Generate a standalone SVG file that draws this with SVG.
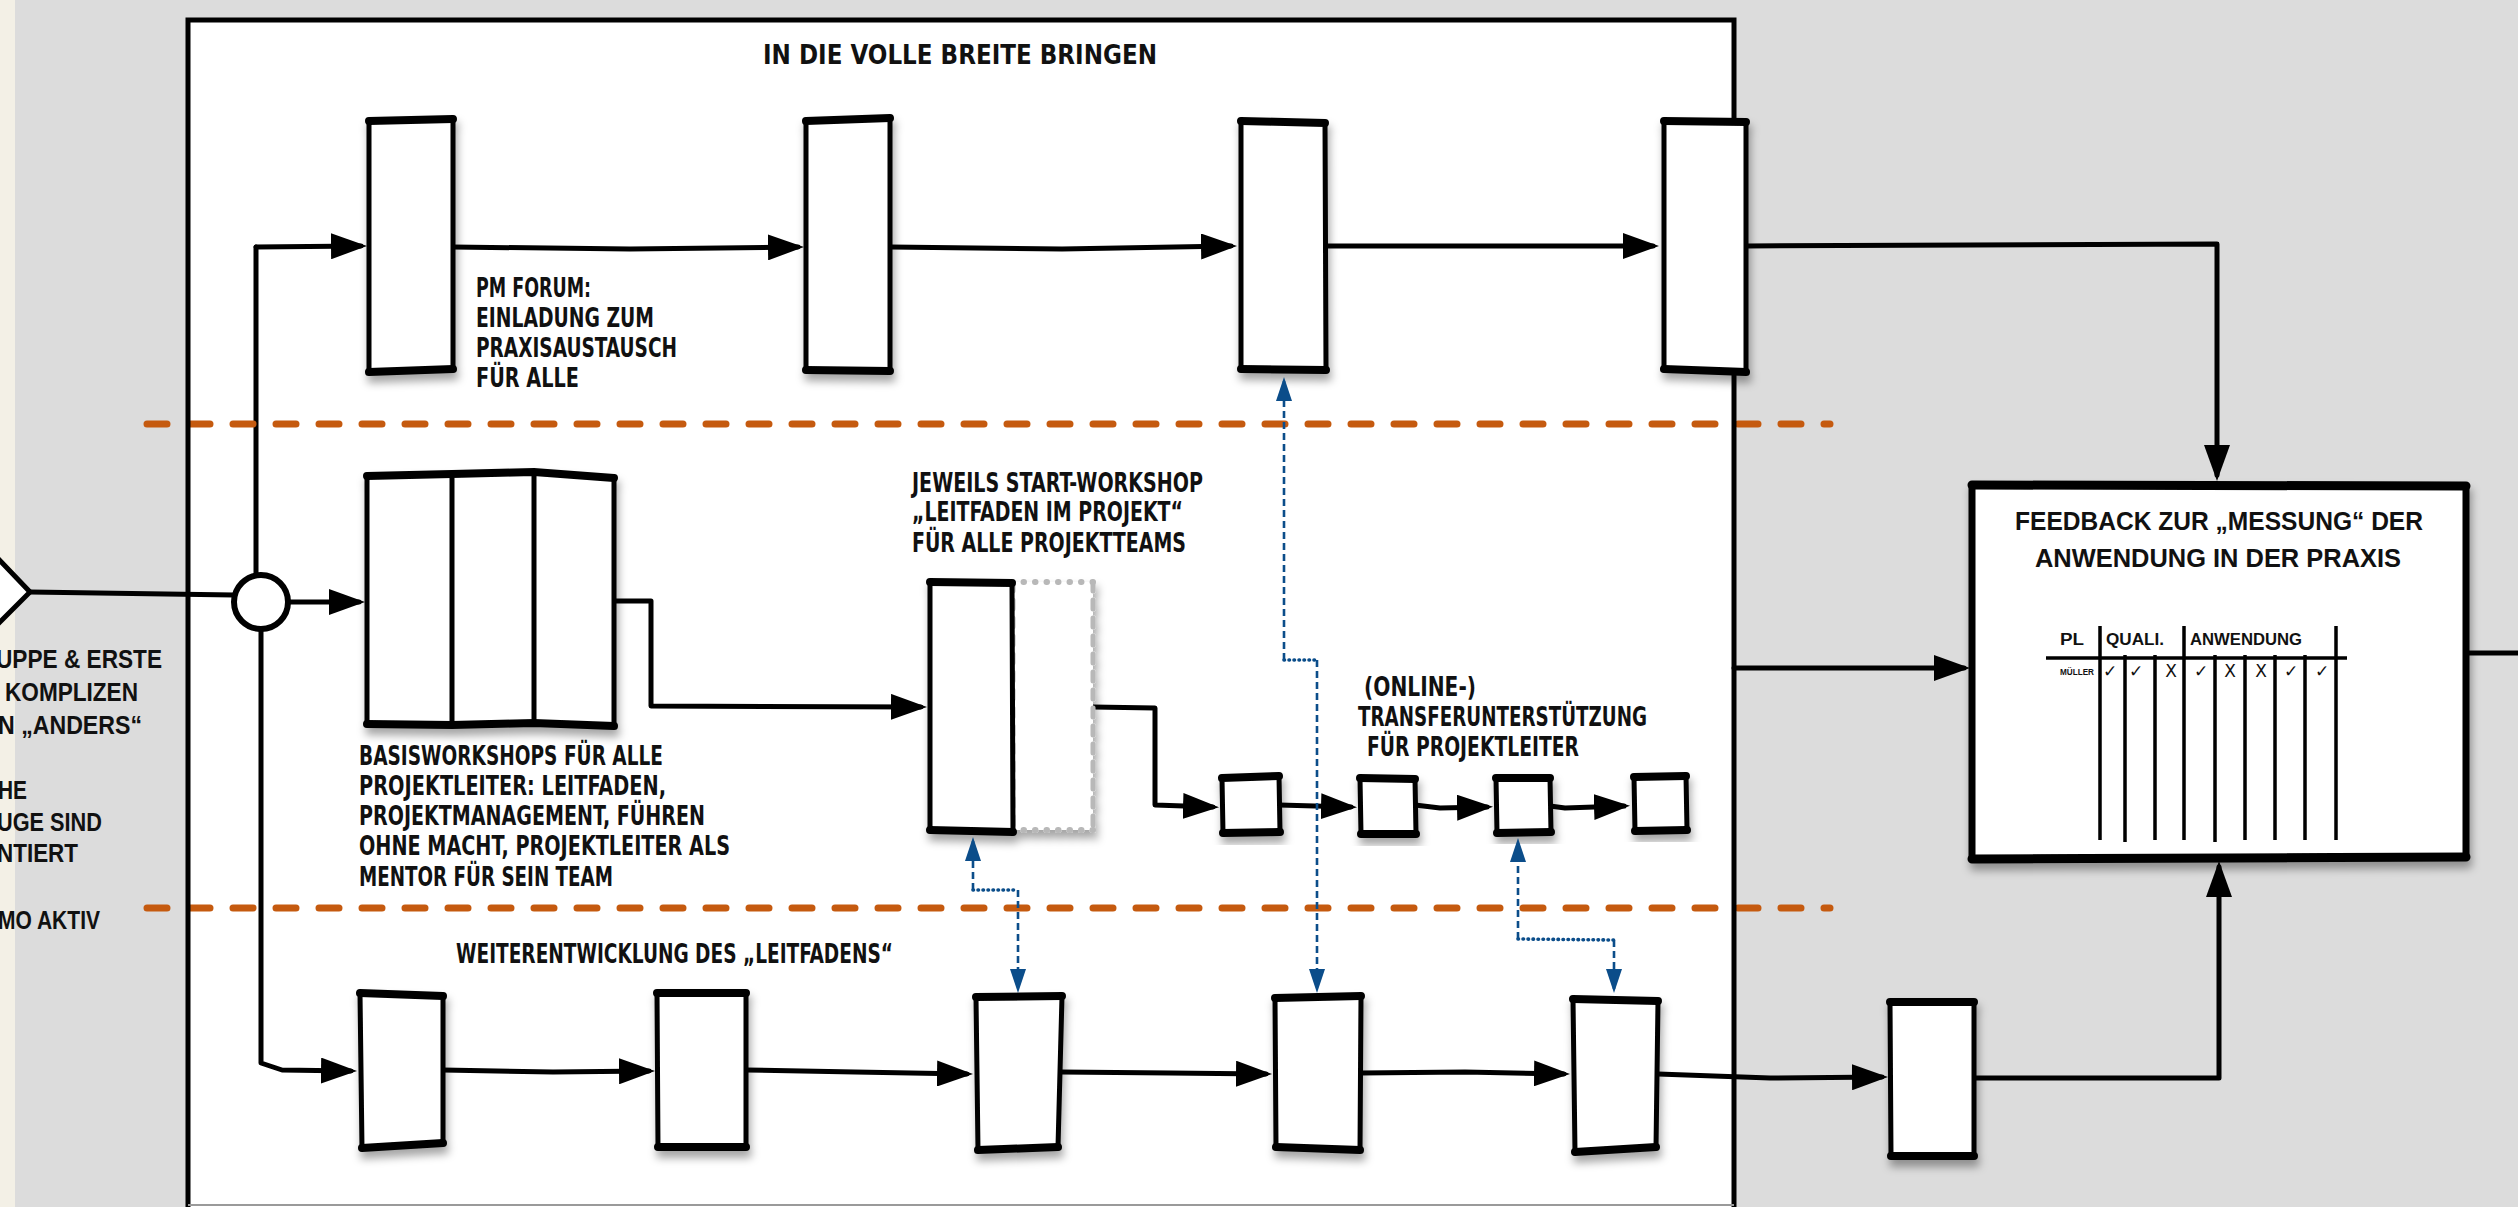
<svg xmlns="http://www.w3.org/2000/svg" width="2518" height="1207" viewBox="0 0 2518 1207">
<style>
.bx{fill:#fff;stroke:#000;stroke-width:5;stroke-linejoin:round}
.cap{fill:none;stroke:#000;stroke-width:8;stroke-linecap:round}
.dv{fill:none;stroke:#000;stroke-width:5}
.ln{fill:none;stroke:#000;stroke-width:5;stroke-linejoin:round;stroke-linecap:round}
.bl{fill:none;stroke:#0b4d8a;stroke-width:2.6;stroke-dasharray:7 4}
.bd{fill:none;stroke:#0b4d8a;stroke-width:3.6;stroke-dasharray:0.5 4.5;stroke-linecap:round}
.or{fill:none;stroke:#c55a0f;stroke-width:7;stroke-dasharray:20 23;stroke-linecap:round}
.hand{font-family:'Liberation Sans Narrow','DejaVu Sans Condensed','Liberation Sans',sans-serif;font-weight:bold;font-size:27px;fill:#111}
.brush{font-family:'Liberation Sans','DejaVu Sans',sans-serif;font-weight:bold;fill:#111}
.mk{font-family:'DejaVu Sans',sans-serif;font-size:17px;fill:#111;text-anchor:middle}
.tl{fill:none;stroke:#000;stroke-width:3.5}
</style>
<defs>
<filter id="sh" x="-30%" y="-10%" width="160%" height="130%">
<feDropShadow dx="2" dy="7" stdDeviation="4" flood-color="#000" flood-opacity="0.35"/>
</filter>
<marker id="ah" markerUnits="userSpaceOnUse" viewBox="0 0 36 26" markerWidth="36" markerHeight="26" refX="30" refY="13" orient="auto">
<path d="M0,0 L36,13 L0,26 z" fill="#000"/>
</marker>
<marker id="bh" markerUnits="userSpaceOnUse" viewBox="0 0 24 16" markerWidth="24" markerHeight="16" refX="20" refY="8" orient="auto-start-reverse">
<path d="M0,0 L24,8 L0,16 z" fill="#0b4d8a"/>
</marker>
</defs>

<!-- background -->
<rect x="0" y="0" width="2518" height="1207" fill="#dcdcdc"/>
<rect x="0" y="0" width="15" height="1207" fill="#f3f0e6"/>

<!-- main frame -->
<g id="frame">
<rect x="188" y="20" width="1546" height="1195" fill="#fff"/>
</g>

<!-- left truncated texts -->
<g id="left-notes">
<text class="brush" font-size="26" x="-4" y="668" textLength="166" lengthAdjust="spacingAndGlyphs">UPPE &amp; ERSTE</text>
<text class="brush" font-size="26" x="5" y="701" textLength="133" lengthAdjust="spacingAndGlyphs">KOMPLIZEN</text>
<text class="brush" font-size="26" x="-2" y="734" textLength="144" lengthAdjust="spacingAndGlyphs">N „ANDERS“</text>
<text class="brush" font-size="26" x="-2" y="799" textLength="29" lengthAdjust="spacingAndGlyphs">HE</text>
<text class="brush" font-size="26" x="-3" y="831" textLength="105" lengthAdjust="spacingAndGlyphs">UGE SIND</text>
<text class="brush" font-size="26" x="-3" y="862" textLength="81" lengthAdjust="spacingAndGlyphs">NTIERT</text>
<text class="brush" font-size="26" x="-2" y="929" textLength="102" lengthAdjust="spacingAndGlyphs">MO AKTIV</text>
</g>

<!-- entry chevron -->
<g id="entry">
<path d="M-12,548 L30,592 L-12,634 Z" fill="#fff" stroke="#000" stroke-width="5" stroke-linejoin="miter"/>
</g>

<!-- connectors -->
<g id="connectors">
<path class="ln" d="M30,592 L234,595"/>
<path class="ln" d="M256,575 L256,247"/>
<path class="ln" d="M256,247 L361,246" marker-end="url(#ah)"/>
<path class="ln" d="M261,629 L261,1063 L282,1070 L351,1071" marker-end="url(#ah)"/>
<path class="ln" d="M288,602 L359,602" marker-end="url(#ah)"/>
<!-- row 1 -->
<path class="ln" d="M453,247 L630,249 L798,247" marker-end="url(#ah)"/>
<path class="ln" d="M891,247 L1062,249 L1231,246" marker-end="url(#ah)"/>
<path class="ln" d="M1326,246 L1653,246" marker-end="url(#ah)"/>
<path class="ln" d="M1747,246 L2217,244 L2217,475" marker-end="url(#ah)"/>
<!-- row 2 -->
<path class="ln" d="M614,601 L651,601 L651,706 L921,707" marker-end="url(#ah)"/>
<path class="ln" d="M1093,707 L1155,708 L1155,805 L1213,807" marker-end="url(#ah)"/>
<path class="ln" d="M1279,805 L1351,807" marker-end="url(#ah)"/>
<path class="ln" d="M1415,805 L1440,808 L1487,807" marker-end="url(#ah)"/>
<path class="ln" d="M1550,806 L1565,808 L1624,806" marker-end="url(#ah)"/>
<!-- row 3 -->
<path class="ln" d="M443,1070 L553,1072 L649,1071" marker-end="url(#ah)"/>
<path class="ln" d="M746,1070 L855,1072 L967,1074" marker-end="url(#ah)"/>
<path class="ln" d="M1061,1072 L1170,1073 L1266,1074" marker-end="url(#ah)"/>
<path class="ln" d="M1361,1073 L1465,1072 L1564,1074" marker-end="url(#ah)"/>
<path class="ln" d="M1658,1074 L1770,1078 L1882,1077" marker-end="url(#ah)"/>
<path class="ln" d="M1974,1078 L2219,1078 L2219,867" marker-end="url(#ah)"/>
<!-- to / from feedback -->
<path class="ln" d="M1734,668 L1964,668" marker-end="url(#ah)"/>
<path class="ln" d="M2466,653 L2520,653"/>
</g>

<!-- swimlane separators -->
<g id="lanes">
<line class="or" x1="147" y1="424" x2="1830" y2="424"/>
<line class="or" x1="147" y1="908" x2="1830" y2="908"/>
</g>

<!-- frame border -->
<rect x="188" y="20" width="1546" height="1195" fill="none" stroke="#000" stroke-width="5"/>
<line x1="188" y1="1205" x2="1734" y2="1205" stroke="#9a9a9a" stroke-width="2"/>

<text id="title" class="hand" font-size="31" x="763" y="64" textLength="394" lengthAdjust="spacingAndGlyphs">IN DIE VOLLE BREITE BRINGEN</text>

<!-- lane 1 nodes -->
<g id="pm-a"><g filter="url(#sh)"><polygon class="bx" points="369,121 453,119 453,369 369,372"/><path class="cap" d="M369,121 L453,119 M369,372 L453,369"/></g></g>
<g id="pm-b"><g filter="url(#sh)"><polygon class="bx" points="806,121 890,118 890,371 806,370"/><path class="cap" d="M806,121 L890,118 M806,370 L890,371"/></g></g>
<g id="pm-c"><g filter="url(#sh)"><polygon class="bx" points="1241,121 1325,123 1326,370 1241,369"/><path class="cap" d="M1241,121 L1325,123 M1241,369 L1326,370"/></g></g>
<g id="pm-d"><g filter="url(#sh)"><polygon class="bx" points="1664,121 1746,122 1746,372 1664,369"/><path class="cap" d="M1664,121 L1746,122 M1664,369 L1746,372"/></g></g>
<g id="pm-text">
<text class="hand" x="476" y="297" textLength="115" lengthAdjust="spacingAndGlyphs">PM FORUM:</text>
<text class="hand" x="476" y="327" textLength="178" lengthAdjust="spacingAndGlyphs">EINLADUNG ZUM</text>
<text class="hand" x="476" y="357" textLength="201" lengthAdjust="spacingAndGlyphs">PRAXISAUSTAUSCH</text>
<text class="hand" x="476" y="387" textLength="103" lengthAdjust="spacingAndGlyphs">FÜR ALLE</text>
</g>

<!-- lane 2 nodes -->
<g id="junction"><circle cx="261" cy="602" r="27" fill="#fff" stroke="#000" stroke-width="6"/></g>
<g id="basis">
<g filter="url(#sh)">
<polygon class="bx" points="367,476 452,474 534,472 614,478 614,726 534,723 452,725 367,724"/>
<path class="dv" d="M452,474 L452,725 M534,472 L534,723"/>
<path class="cap" d="M367,476 L452,474 L534,472 L614,478 M367,724 L452,725 L534,723 L614,726"/>
</g>
<text class="hand" x="359" y="765" textLength="304" lengthAdjust="spacingAndGlyphs">BASISWORKSHOPS FÜR ALLE</text>
<text class="hand" x="359" y="795" textLength="307" lengthAdjust="spacingAndGlyphs">PROJEKTLEITER: LEITFADEN,</text>
<text class="hand" x="359" y="825" textLength="346" lengthAdjust="spacingAndGlyphs">PROJEKTMANAGEMENT, FÜHREN</text>
<text class="hand" x="359" y="855" textLength="371" lengthAdjust="spacingAndGlyphs">OHNE MACHT, PROJEKTLEITER ALS</text>
<text class="hand" x="359" y="886" textLength="254" lengthAdjust="spacingAndGlyphs">MENTOR FÜR SEIN TEAM</text>
</g>
<g id="start-ws">
<g filter="url(#sh)">
<rect x="1012" y="582" width="81" height="248" fill="#fff"/>
<path d="M1012,582 L1093,582 M1012,830 L1093,830" fill="none" stroke="#b8b8b8" stroke-width="6" stroke-dasharray="0.5 11" stroke-linecap="round"/>
<path d="M1093,582 L1093,830 M1013,582 L1013,830" fill="none" stroke="#b8b8b8" stroke-width="5" stroke-dasharray="9 9" stroke-linecap="round"/>
<polygon class="bx" points="930,582 1012,583 1013,832 930,830"/>
<path class="cap" d="M930,582 L1012,583 M930,830 L1013,832"/>
</g>
<text class="hand" x="912" y="492" textLength="291" lengthAdjust="spacingAndGlyphs">JEWEILS START-WORKSHOP</text>
<text class="hand" x="912" y="521" textLength="271" lengthAdjust="spacingAndGlyphs">„LEITFADEN IM PROJEKT“</text>
<text class="hand" x="912" y="552" textLength="274" lengthAdjust="spacingAndGlyphs">FÜR ALLE PROJEKTTEAMS</text>
</g>
<g id="t1"><g filter="url(#sh)"><polygon class="bx" points="1222,778 1279,776 1280,832 1223,833"/><path class="cap" d="M1222,778 L1279,776 M1223,833 L1280,832"/></g></g>
<g id="t2"><g filter="url(#sh)"><polygon class="bx" points="1360,778 1415,779 1416,834 1361,834"/><path class="cap" d="M1360,778 L1415,779 M1361,834 L1416,834"/></g></g>
<g id="t3"><g filter="url(#sh)"><polygon class="bx" points="1496,778 1550,778 1551,832 1497,833"/><path class="cap" d="M1496,778 L1550,778 M1497,833 L1551,832"/></g></g>
<g id="t4"><g filter="url(#sh)"><polygon class="bx" points="1634,777 1686,776 1687,830 1635,831"/><path class="cap" d="M1634,777 L1686,776 M1635,831 L1687,830"/></g></g>
<g id="transfer-text">
<text class="hand" x="1364" y="696" textLength="112" lengthAdjust="spacingAndGlyphs">(ONLINE-)</text>
<text class="hand" x="1358" y="726" textLength="289" lengthAdjust="spacingAndGlyphs">TRANSFERUNTERSTÜTZUNG</text>
<text class="hand" x="1367" y="756" textLength="212" lengthAdjust="spacingAndGlyphs">FÜR PROJEKTLEITER</text>
</g>

<!-- lane 3 nodes -->
<text id="lane3-title" class="hand" font-size="24" x="456" y="963" textLength="437" lengthAdjust="spacingAndGlyphs">WEITERENTWICKLUNG DES „LEITFADENS“</text>
<g id="f1"><g filter="url(#sh)"><polygon class="bx" points="360,993 443,996 443,1143 362,1148"/><path class="cap" d="M360,993 L443,996 M362,1148 L443,1143"/></g></g>
<g id="f2"><g filter="url(#sh)"><polygon class="bx" points="657,993 746,993 746,1147 658,1147"/><path class="cap" d="M657,993 L746,993 M658,1147 L746,1147"/></g></g>
<g id="f3"><g filter="url(#sh)"><polygon class="bx" points="976,997 1062,996 1058,1147 978,1150"/><path class="cap" d="M976,997 L1062,996 M978,1150 L1058,1147"/></g></g>
<g id="f4"><g filter="url(#sh)"><polygon class="bx" points="1275,998 1361,996 1360,1150 1276,1147"/><path class="cap" d="M1275,998 L1361,996 M1276,1147 L1360,1150"/></g></g>
<g id="f5"><g filter="url(#sh)"><polygon class="bx" points="1573,999 1658,1001 1656,1147 1575,1152"/><path class="cap" d="M1573,999 L1658,1001 M1575,1152 L1656,1147"/></g></g>
<g id="e1"><g filter="url(#sh)"><polygon class="bx" points="1890,1002 1974,1002 1974,1156 1891,1156"/><path class="cap" d="M1890,1002 L1974,1002 M1891,1156 L1974,1156"/></g></g>

<!-- feedback node -->
<g id="feedback">
<g filter="url(#sh)">
<polygon points="1972,485 2466,486 2466,857 1972,859" fill="#fff" stroke="#000" stroke-width="7" stroke-linejoin="round"/>
<path d="M1972,485 L2466,486 M1972,859 L2466,857" fill="none" stroke="#000" stroke-width="9" stroke-linecap="round"/>
</g>
<text class="brush" font-size="26" x="2219" y="530" text-anchor="middle" textLength="408" lengthAdjust="spacingAndGlyphs">FEEDBACK ZUR „MESSUNG“ DER</text>
<text class="brush" font-size="26" x="2218" y="567" text-anchor="middle" textLength="366" lengthAdjust="spacingAndGlyphs">ANWENDUNG IN DER PRAXIS</text>
<text class="brush" font-size="16" x="2060" y="645" textLength="24" lengthAdjust="spacingAndGlyphs">PL</text>
<text class="brush" font-size="16" x="2106" y="645" textLength="58" lengthAdjust="spacingAndGlyphs">QUALI.</text>
<text class="brush" font-size="16" x="2190" y="645" textLength="112" lengthAdjust="spacingAndGlyphs">ANWENDUNG</text>
<line class="tl" x1="2046" y1="658" x2="2347" y2="658"/>
<path class="tl" d="M2100,626 V840 M2184,626 V840 M2336,626 V840 M2125,655 V842 M2155,655 V840 M2215,655 V842 M2245,655 V840 M2275,655 V840 M2305,655 V840"/>
<text class="brush" font-size="9" x="2060" y="675" textLength="34" lengthAdjust="spacingAndGlyphs">MÜLLER</text>
<text class="mk" x="2110" y="677">✓</text>
<text class="mk" x="2136" y="677">✓</text>
<text class="mk" x="2171" y="677">X</text>
<text class="mk" x="2201" y="677">✓</text>
<text class="mk" x="2230" y="677">X</text>
<text class="mk" x="2261" y="677">X</text>
<text class="mk" x="2291" y="677">✓</text>
<text class="mk" x="2322" y="677">✓</text>
</g>

<!-- dependency connectors (blue) -->
<g id="dependencies">
<path class="bl" d="M973,890 L973,841" marker-end="url(#bh)"/>
<path class="bd" d="M973,890 L1018,890"/>
<path class="bl" d="M1018,890 L1018,989" marker-end="url(#bh)"/>
<path class="bl" d="M1284,660 L1284,381" marker-end="url(#bh)"/>
<path class="bd" d="M1284,660 L1317,660"/>
<path class="bl" d="M1317,660 L1317,989" marker-end="url(#bh)"/>
<path class="bl" d="M1518,939 L1518,842" marker-end="url(#bh)"/>
<path class="bd" d="M1518,939 L1614,940"/>
<path class="bl" d="M1614,940 L1614,989" marker-end="url(#bh)"/>
</g>
</svg>
